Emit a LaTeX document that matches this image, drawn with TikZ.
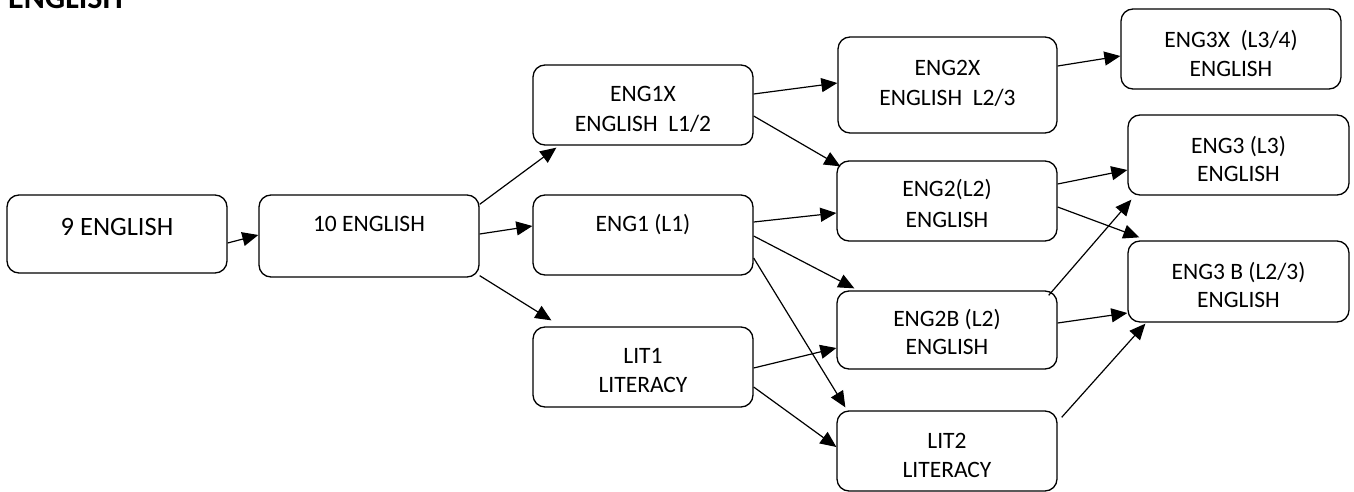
\documentclass[tikz,border=0pt]{standalone}
\usepackage{fontspec}
\setmainfont{Carlito}
\usetikzlibrary{arrows.meta,calc}
\begin{document}
\begin{tikzpicture}[x=1pt,y=-1pt,
  box/.style={draw, line width=1.3pt, rounded corners=12pt, minimum width=220pt, minimum height=80pt, inner sep=0pt},
  lbl/.style={anchor=base, font=\fontsize{23.5}{28}\selectfont, inner sep=0pt},
  arr/.style={line width=1.2pt, -{Triangle[length=16pt,width=14pt]}}]
\useasboundingbox (0,0) rectangle (1354,492);
\node[anchor=base west, font=\bfseries\fontsize{32}{36}\selectfont, inner sep=0pt] (title) at (8,9) {ENGLISH};
% boxes
\node[box, minimum height=78pt] (n9) at (117,234) {};
\node[box, minimum height=82pt] (n10) at (369,236) {};
\node[box] (e1x) at (643,105) {};
\node[box] (e1) at (643,235) {};
\node[box] (l1) at (643,367) {};
\node[box, minimum width=219pt, minimum height=96pt] (e2x) at (947.5,85) {};
\node[box] (e2) at (947,201) {};
\node[box, minimum height=78pt] (e2b) at (947,330) {};
\node[box] (l2) at (947,451) {};
\node[box] (e3x) at (1231,49) {};
\node[box, minimum width=221pt] (e3) at (1238.5,155) {};
\node[box, minimum width=221pt, minimum height=81pt] (e3b) at (1238.5,281.5) {};
% texts
\node[lbl, font=\fontsize{26.5}{30}\selectfont] (t9) at ($(n9.north)+(0,41)$) {9 ENGLISH};
\node[lbl] (t10) at ($(n10.north)+(0,37)$) {10 ENGLISH};
\node[lbl] (t1xa) at ($(e1x.north)+(0,37)$) {ENG1X};
\node[lbl] (t1xb) at ($(e1x.north)+(0,67)$) {ENGLISH\ \ L1/2};
\node[lbl] (t1) at ($(e1.north)+(0,37)$) {ENG1 (L1)};
\node[lbl] (tl1a) at ($(l1.north)+(0,37)$) {LIT1};
\node[lbl] (tl1b) at ($(l1.north)+(0,66)$) {LITERACY};
\node[lbl] (t2xa) at ($(e2x.north)+(0,39)$) {ENG2X};
\node[lbl] (t2xb) at ($(e2x.north)+(0,69)$) {ENGLISH\ \ L2/3};
\node[lbl] (t2a) at ($(e2.north)+(0,36)$) {ENG2(L2)};
\node[lbl] (t2b) at ($(e2.north)+(0,67)$) {ENGLISH};
\node[lbl] (t2ba) at ($(e2b.north)+(0,36)$) {ENG2B (L2)};
\node[lbl] (t2bb) at ($(e2b.north)+(0,64)$) {ENGLISH};
\node[lbl] (tl2a) at ($(l2.north)+(0,38)$) {LIT2};
\node[lbl] (tl2b) at ($(l2.north)+(0,67)$) {LITERACY};
\node[lbl] (t3xa) at ($(e3x.north)+(0,39)$) {ENG3X\ \ (L3/4)};
\node[lbl] (t3xb) at ($(e3x.north)+(0,68)$) {ENGLISH};
\node[lbl] (t3a) at ($(e3.north)+(0,39)$) {ENG3 (L3)};
\node[lbl] (t3b) at ($(e3.north)+(0,67)$) {ENGLISH};
\node[lbl] (t3ba) at ($(e3b.north)+(0,39)$) {ENG3 B (L2/3)};
\node[lbl] (t3bb) at ($(e3b.north)+(0,67)$) {ENGLISH};
% arrows
\draw[arr] ($(n9.east)+(0,9)$) -- ($(n10.west)+(0,-1)$);
\draw[arr] ($(n10.north east)+(0,10)$) -- ($(e1x.south west)+(24,2)$);
\draw[arr] ($(n10.east)+(0,-2)$) -- ($(e1.west)+(0,-9)$);
\draw[arr] ($(n10.south east)+(0,-2)$) -- ($(l1.north west)+(19,-6)$);
\draw[arr] ($(e1x.east)+(0,-11)$) -- ($(e2x.west)+(0,-2)$);
\draw[arr] ($(e1x.east)+(0,11)$) -- ($(e2.north west)+(4,6)$);
\draw[arr] ($(e1.east)+(0,-13)$) -- ($(e2.west)+(0,12)$);
\draw[arr] ($(e1.east)+(0,1)$) -- ($(e2b.north west)+(18,-2)$);
\draw[arr] ($(e1.east)+(0,23)$) -- ($(l2.north west)+(9,-3)$);
\draw[arr] ($(l1.east)+(0,1)$) -- ($(e2b.west)+(0,18)$);
\draw[arr] ($(l1.east)+(0,20)$) -- ($(l2.west)+(0,-4)$);
\draw[arr] ($(e2x.east)+(0,-19)$) -- ($(e3x.west)+(0,7)$);
\draw[arr] ($(e2.east)+(0,-17)$) -- ($(e3.west)+(0,15)$);
\draw[arr] ($(e2.east)+(0,6)$) -- ($(e3b.north west)+(12,-3)$);
\draw[arr] ($(e2b.north east)+(-9,5)$) -- ($(e3.south west)+(4,4)$);
\draw[arr] ($(e2b.east)+(0,-7)$) -- ($(e3b.west)+(0,31.5)$);
\draw[arr] ($(l2.north east)+(4,7)$) -- ($(e3b.south west)+(18,1)$);
\end{tikzpicture}
\end{document}
